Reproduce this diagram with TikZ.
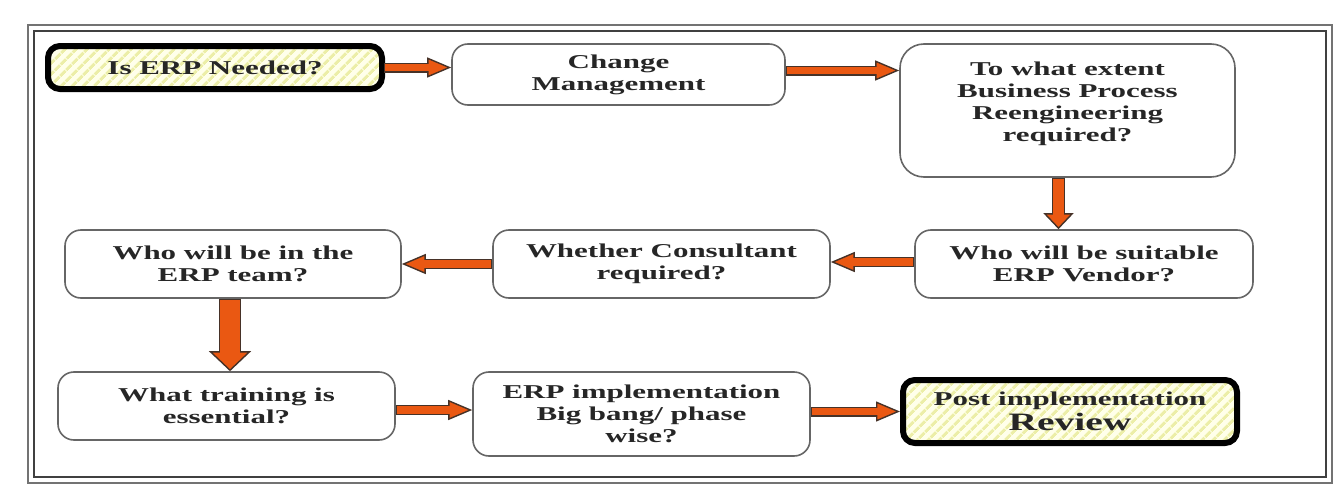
\documentclass[tikz,border=0pt]{standalone}
\usepackage{fontspec}
\setmainfont{Liberation Serif}[FakeStretch=1.58]
\usetikzlibrary{arrows.meta,patterns.meta}
\definecolor{erporange}{RGB}{234,88,18}
\definecolor{erpline}{RGB}{70,50,40}
\definecolor{hatchbg}{RGB}{255,255,234}
\definecolor{hatchline}{RGB}{236,238,168}
\tikzset{
  stepbox/.style = {shape=rectangle, rounded corners=8pt,
                    draw=black!60, line width=0.8pt, align=center,
                    fill=white, text=black!85, inner sep=2pt,
                    font=\bfseries\fontsize{9.8}{11}\selectfont},
  endbox/.style  = {stepbox, draw=black, line width=3pt, rounded corners=6pt,
                    preaction={fill=hatchbg},
                    pattern={Lines[angle=45,distance=4pt,line width=1.6pt]},
                    pattern color=hatchline},
  flow/.style n args = {3}{line width=#1, draw=erpline,
                    -{Triangle[length=#3, width=#2, line width=0.7pt, fill=erporange]},
                    postaction={draw=erporange, line width=#1-1.4pt, arrows=-,
                                shorten <=0.7pt, shorten >=#3-1.5pt}}
}

\begin{document}
\begin{tikzpicture}[x=0.5pt, y=-0.5pt]
  \useasboundingbox (0,0) rectangle (1335,487);
  % double frame
  \draw [black!55, line width=1pt] (28,25) rectangle (1332,483);
  \draw [black!75, line width=1.4pt] (34,31) rectangle (1326,477);

  % first row
  \node [endbox, minimum width=167pt, minimum height=21.5pt] (need) at (215,67.5) {Is ERP Needed?};
  \node [stepbox, minimum width=166.5pt, minimum height=30.5pt] (change) at (618.5,74.5) {Change\\Management};
  \node [stepbox, rounded corners=12pt, minimum width=167.5pt, minimum height=66.5pt] (extent) at (1067.5,110.5)
        {To what extent\\Business Process\\Reengineering\\required?\\[-2pt]};

  % second row
  \node [stepbox, minimum width=169pt, minimum height=34pt] (vendor) at (1084,264) {Who will be suitable\\ERP Vendor?};
  \node [stepbox, minimum width=168.5pt, minimum height=34pt] (consult) at (661.5,264) {Whether Consultant\\required?};
  \node [stepbox, minimum width=168pt, minimum height=34pt] (team) at (233,264) {Who will be in the\\ERP team?};

  % third row
  \node [stepbox, minimum width=168.5pt, minimum height=34pt] (training) at (226.5,406) {What training is\\essential?};
  \node [stepbox, minimum width=168.5pt, minimum height=42pt] (impl) at (641.5,414) {ERP implementation\\Big bang/ phase\\wise?};
  \node [endbox, minimum width=167pt, minimum height=31.5pt] (review) at (1070,411.5)
        {Post implementation\\[1.5pt]{\fontsize{12.5}{13}\selectfont Review}};

  % connectors
  \draw [flow={5pt}{10pt}{12pt}] (need.east) -- (need.east -| change.west);
  \draw [flow={5pt}{10pt}{12pt}] ([yshift=2pt]change.east) -- ([yshift=2pt]change.east -| extent.west);
  \draw [flow={6.5pt}{15pt}{8pt}] ([xshift=-4.5pt]extent.south) -- ([xshift=-4.5pt]extent.south |- vendor.north);
  \draw [flow={5pt}{10pt}{12pt}] ([yshift=1pt]vendor.west) -- ([yshift=1pt]vendor.west -| consult.east);
  \draw [flow={5pt}{10pt}{12pt}] (consult.west) -- (consult.west -| team.east);
  \draw [flow={11pt}{21pt}{10pt}] ([xshift=-1.5pt]team.south) -- ([xshift=-1.5pt]team.south |- training.north);
  \draw [flow={5pt}{10pt}{12pt}] ([yshift=-2pt]training.east) -- ([yshift=-2pt]training.east -| impl.west);
  \draw [flow={5pt}{10pt}{12pt}] (review.west -| impl.east) -- (review.west);
\end{tikzpicture}
\end{document}
